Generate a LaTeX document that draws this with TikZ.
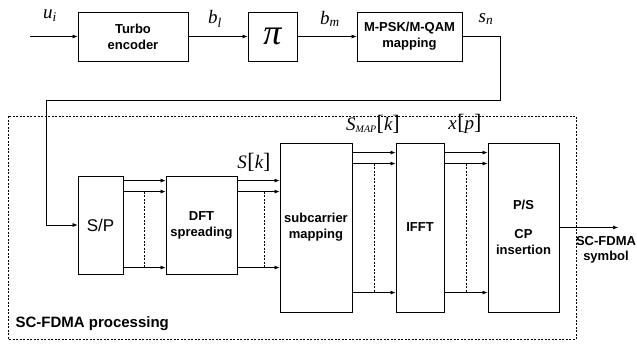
\documentclass[tikz,border=0pt]{standalone}
\usepackage{fontspec}
\setmainfont{Liberation Sans}
\newfontfamily\serifit{Liberation Serif}
\usetikzlibrary{arrows.meta, positioning, calc}

\newcommand{\sig}[2]{{\serifit\fontsize{19}{21}\selectfont\itshape #1\textsubscript{#2}}}
\newcommand{\seq}[3]{{\serifit\fontsize{19}{21}\selectfont\itshape #1\textsubscript{\fontsize{10}{10}\selectfont #2}{\upshape\fontsize{22}{22}\selectfont[}#3{\upshape\fontsize{22}{22}\selectfont]}}}

\begin{document}
\begin{tikzpicture}[x=1pt, y=-1pt]
    \tikzstyle{block} = [rectangle, draw=black, line width=0.9pt, inner sep=0pt, align=center, font=\bfseries\fontsize{13}{16}\selectfont]
    \tikzstyle{arrow} = [line width=0.6pt, ->, >={Latex[length=5pt,width=4pt]}]
    \tikzstyle{lane} = [line width=0.6pt, dashed, dash pattern=on 2pt off 1.5pt]

    \useasboundingbox (0,0) rectangle (637,343);

    % transmitter chain
    \node[block, minimum width=110pt, minimum height=49pt] (turbo) at (133,36.5) {Turbo\\encoder};
    \node[block, minimum width=49pt, minimum height=49pt, font=\serifit\fontsize{36}{36}\selectfont\itshape] (inter) at (272.5,36.5) {π};
    \node[block, minimum width=105pt, minimum height=49pt] (mapper) at (409.5,36.5) {M-PSK/M-QAM\\mapping};

    % SC-FDMA blocks
    \draw[lane] (8,116) rectangle (576,339);
    \node[anchor=west, font=\bfseries\fontsize{15}{17}\selectfont] (proc) at (12,324) {SC-FDMA processing};
    \node[block, minimum width=45pt, minimum height=98pt, font=\fontsize{17}{19}\selectfont] (sp) at (100.5,225) {S/P};
    \node[block, minimum width=71pt, minimum height=98pt] (dft) at (201.5,225) {DFT\\spreading};
    \node[block, minimum width=72pt, minimum height=169pt] (subc) at (316,227.5) {subcarrier\\mapping};
    \node[block, minimum width=48pt, minimum height=169pt] (ifft) at (420,227.5) {IFFT};
    \node[block, minimum width=71pt, minimum height=169pt] (ps) at (523.5,227.5) {P/S\\[13pt]CP\\insertion};

    \coordinate (in) at (30,36.5);
    \coordinate (turnR) at (500,100);
    \coordinate (turnL) at (46,100);
    \coordinate (out) at (618,227.5);

    \draw[arrow] (in) -- (turbo);
    \draw[arrow] (turbo) -- (inter);
    \draw[arrow] (inter) -- (mapper);
    \draw[arrow] (mapper.east) -| (turnR) -- (turnL) |- (sp.west);
    \draw[arrow] (ps.east) -- (out);

    % parallel lanes between blocks
    \foreach \src/\dst/\t/\b/\f in {sp/dft/5/92/0.5, dft/subc/5/92/0.63, subc/ifft/10/150/0.5, ifft/ps/10/150/0.5} {
        \coordinate (l1) at ($(\src.north east)+(0,\t)$);
        \coordinate (l2) at ($(\src.north east)+(0,\t+11)$);
        \coordinate (l3) at ($(\src.north east)+(0,\b)$);
        \draw[arrow] (l1) -- (\dst.west |- l1);
        \draw[arrow] (l2) -- (\dst.west |- l2);
        \draw[arrow] (l3) -- (\dst.west |- l3);
        \draw[lane] ($(l2)!\f!(\dst.west |- l2)$) -- ($(l3)!\f!(\dst.west |- l3)$);
    }

    % signal labels
    \node (ui) at (50,16) {\sig{u}{i}};
    \node (bl) at (215,19) {\sig{b}{l}};
    \node (bm) at (330,19) {\sig{b}{m}};
    \node (sn) at (486,19) {\sig{s}{n}};
    \node (sk) at (254,162) {\seq{S}{}{k}};
    \node (smap) at (373,124) {\seq{S}{MAP}{k}};
    \node (xp) at (465,124) {\seq{x}{}{p}};
    \node[align=center, font=\bfseries\fontsize{13}{15}\selectfont] (sym) at (606,250) {SC-FDMA\\symbol};
\end{tikzpicture}
\end{document}
